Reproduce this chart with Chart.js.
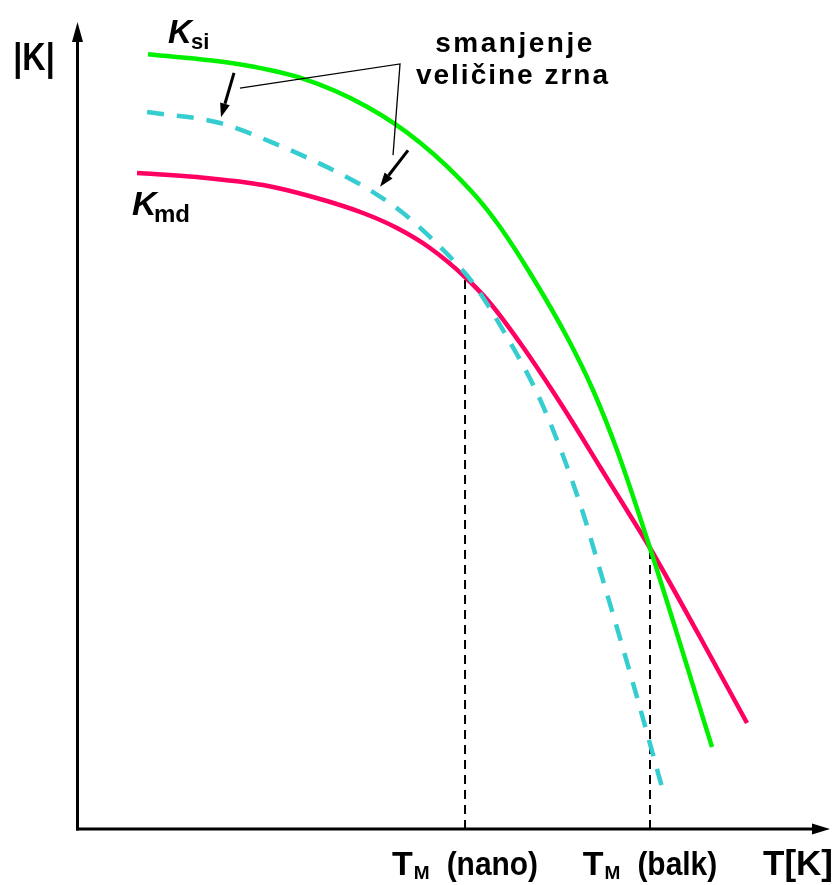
<!DOCTYPE html>
<html>
<head>
<meta charset="utf-8">
<script src="https://cdn.jsdelivr.net/npm/chart.js@4/dist/chart.umd.min.js"></script>
<style>
html,body{margin:0;padding:0;background:#fff;}
#wrap{width:837px;height:885px;position:relative;}
</style>
</head>
<body>
<div id="wrap"><canvas id="c"></canvas></div>
<script>
// ---- data (T in arbitrary units 0..100, |K| in arbitrary units 0..100) ----
const ksiT  = [9.37, 20.66, 29.57, 38.47, 45.58, 52.56, 56.15, 60.13, 65.05, 68.50, 71.69, 76.08, 84.32];
const ksiK  = [96.0, 94.9, 93.1, 89.5, 85.01, 78.81, 74.60, 68.90, 60.97, 54.40, 46.96, 34.82, 10.16];
const kmdT  = [7.91, 15.88, 24.65, 31.30, 37.94, 42.46, 46.84, 51.50, 54.82, 59.20, 62.79, 65.85, 69.44, 72.99, 76.08, 82.72, 88.97];
const kmdK  = [81.29, 80.79, 79.80, 78.31, 76.33, 74.47, 72.00, 68.40, 65.18, 59.73, 54.77, 50.31, 44.86, 39.53, 34.82, 23.79, 13.14];
const nanoT = [9.24, 18.94, 27.31, 30.90, 35.28, 39.27, 43.26, 46.84, 49.90, 52.56, 57.08, 61.20, 64.39, 67.18, 69.04, 73.82, 77.67];
const nanoK = [88.85, 87.48, 84.51, 83.02, 81.04, 78.93, 76.33, 73.36, 70.51, 67.66, 60.97, 53.78, 46.59, 39.16, 33.33, 18.09, 5.20];
const meltT = [51.50, 76.08];           // T_M (nano), T_M (balk)
const meltK = [68.40, 34.82];           // |K| where the curves cross
const meltLabels = ['(nano)', '(balk)'];
const yTitle = '|K|';
const xTitle = 'T[K]';
const noteLines = ['smanjenje', 'veličine zrna'];

const pts = (xs, ys) => xs.map((x, i) => ({x: x, y: ys[i]}));
const FONT = '"Liberation Sans", Arial, sans-serif';

const datasets = [
  {data: pts(ksiT, ksiK), borderColor: '#00F000', borderWidth: 4.5, cubicInterpolationMode: 'monotone', order: 1},
  {data: pts(kmdT, kmdK), borderColor: '#FF0062', borderWidth: 4.5, cubicInterpolationMode: 'monotone', order: 1},
  {data: pts(nanoT, nanoK), borderColor: '#36CDD0', borderWidth: 4.5, borderDash: [17, 13], cubicInterpolationMode: 'monotone', order: 0},
  {data: [{x: meltT[0], y: 0}, {x: meltT[0], y: meltK[0]}], borderColor: '#000', borderWidth: 2, borderDash: [9, 6], order: 2},
  {data: [{x: meltT[1], y: 0}, {x: meltT[1], y: meltK[1]}], borderColor: '#000', borderWidth: 2, borderDash: [9, 6], order: 2}
].map(d => Object.assign({showLine: true, pointRadius: 0, fill: false, borderCapStyle: 'butt'}, d));

function txt(ctx, s, x, y, font, align, sx, ls) {
  sx = sx || 1;
  ctx.save();
  ctx.font = font;
  ctx.letterSpacing = ls || '0px';
  ctx.textAlign = 'left';
  ctx.textBaseline = 'alphabetic';
  ctx.fillStyle = '#000';
  const w = ctx.measureText(s).width * sx;
  const x0 = align === 'center' ? x - w / 2 : (align === 'right' ? x - w : x);
  ctx.translate(x0, y);
  ctx.scale(sx, 1);
  ctx.fillText(s, 0, 0);
  ctx.restore();
  return w;
}

function arrow(ctx, x1, y1, x2, y2, lw, hl, hw) {
  const a = Math.atan2(y2 - y1, x2 - x1);
  const bx = x2 - hl * Math.cos(a), by = y2 - hl * Math.sin(a);
  ctx.save();
  ctx.strokeStyle = '#000'; ctx.fillStyle = '#000'; ctx.lineWidth = lw;
  ctx.beginPath(); ctx.moveTo(x1, y1); ctx.lineTo(bx, by); ctx.stroke();
  ctx.beginPath();
  ctx.moveTo(x2, y2);
  ctx.lineTo(bx + hw * Math.sin(a), by - hw * Math.cos(a));
  ctx.lineTo(bx - hw * Math.sin(a), by + hw * Math.cos(a));
  ctx.closePath(); ctx.fill();
  ctx.restore();
}

const deco = {
  id: 'deco',
  afterDraw(chart) {
    const ctx = chart.ctx, xs = chart.scales.x, ys = chart.scales.y;
    const X = v => xs.getPixelForValue(v), Y = v => ys.getPixelForValue(v);
    const x0 = X(0), y0 = Y(0);
    // axes with arrowheads
    arrow(ctx, x0, y0 + 1.5, x0, Y(100), 3, 20, 5.5);
    arrow(ctx, x0 - 1.5, y0, X(100), y0, 3, 18, 5.5);
    // leader lines for the note
    ctx.save();
    ctx.strokeStyle = '#000'; ctx.lineWidth = 1.3;
    ctx.beginPath();
    ctx.moveTo(X(21.59), Y(91.8)); ctx.lineTo(X(42.86), Y(94.8)); ctx.lineTo(X(41.93), Y(83.5));
    ctx.stroke();
    ctx.restore();
    arrow(ctx, X(20.80), Y(93.7), X(19.07), Y(88.2), 3, 14, 5);
    arrow(ctx, X(43.92), Y(84.1), X(40.20), Y(79.6), 3, 14, 5);
    // note text
    txt(ctx, noteLines[0], X(58.14), Y(96.28), 'bold 28px ' + FONT, 'center', 1, '2.5px');
    txt(ctx, noteLines[1], X(57.87), Y(92.32), 'bold 28px ' + FONT, 'center', 1, '2px');
    // y title
    txt(ctx, yTitle, X(-5.78), Y(94.05), 'bold 38px ' + FONT, 'center', 0.85);
    // curve labels
    txt(ctx, 'K', X(12.03), Y(97.4), 'italic bold 33px ' + FONT, 'left');
    txt(ctx, 'si', X(15.08), Y(96.65), 'bold 22px ' + FONT, 'left');
    txt(ctx, 'K', X(7.24), Y(76.08), 'italic bold 34px ' + FONT, 'left');
    txt(ctx, 'md', X(10.17), Y(75.25), 'bold 24px ' + FONT, 'left');
    // melting temperature labels
    const base = Y(-5.70);
    meltT.forEach((t, i) => {
      ctx.save();
      ctx.font = 'bold 34px ' + FONT;
      const wT = ctx.measureText('T').width;
      ctx.font = 'bold 19px ' + FONT;
      const wM = ctx.measureText('M').width;
      ctx.font = 'bold 34px ' + FONT;
      const wP = ctx.measureText(meltLabels[i]).width * 0.88;
      ctx.restore();
      const gap = 17;
      const total = wT + 1 + wM + gap + wP;
      let left = X(t) - total / 2;
      txt(ctx, 'T', left, base, 'bold 34px ' + FONT, 'left');
      txt(ctx, 'M', left + wT + 1, base + 4, 'bold 19px ' + FONT, 'left');
      txt(ctx, meltLabels[i], left + wT + 1 + wM + gap, base, 'bold 34px ' + FONT, 'left', 0.88);
    });
    txt(ctx, xTitle, X(100.4), base, 'bold 35px ' + FONT, 'right');
  }
};

new Chart(document.getElementById('c'), {
  type: 'scatter',
  data: {datasets: datasets},
  options: {
    responsive: true,
    maintainAspectRatio: false,
    animation: false,
    layout: {padding: {left: 77.5, right: 7, top: 22, bottom: 56}},
    plugins: {legend: {display: false}, tooltip: {enabled: false}},
    scales: {
      x: {type: 'linear', min: 0, max: 100, display: false},
      y: {type: 'linear', min: 0, max: 100, display: false}
    }
  },
  plugins: [deco]
});
</script>
</body>
</html>
